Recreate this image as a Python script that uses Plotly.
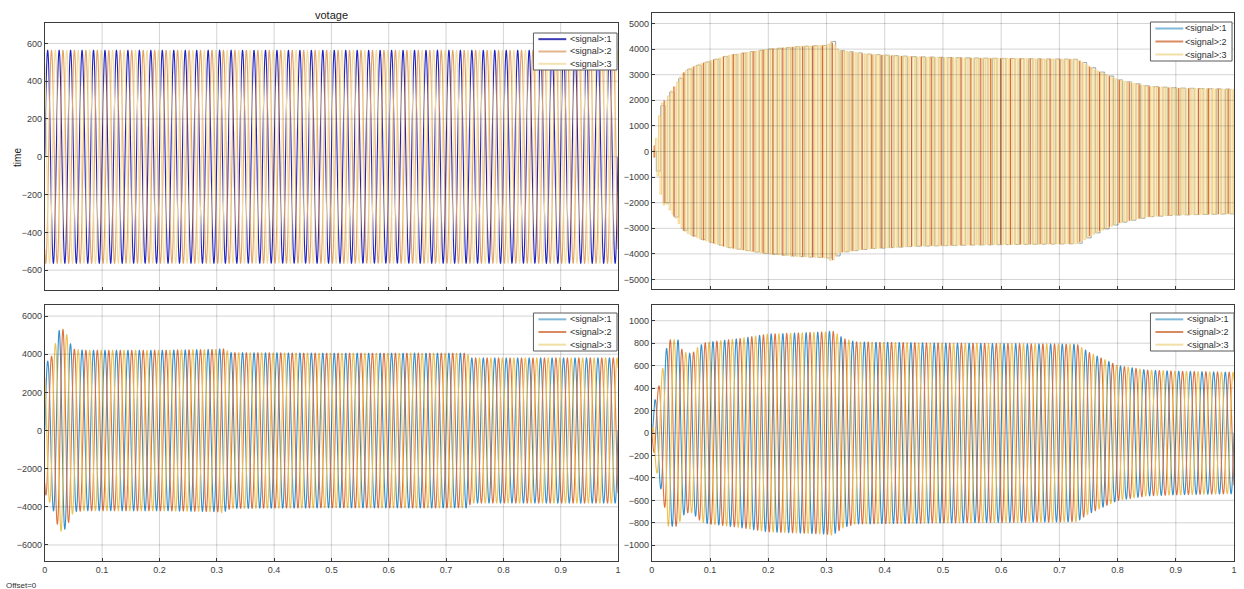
import numpy as np
import plotly.graph_objects as go

# ---------------- data ----------------
F_HZ = 50.0                        # grid frequency
PHASES_DEG = [0.0, -120.0, 120.0]  # three-phase shift
SIGNAL_NAMES = ["&lt;signal&gt;:1", "&lt;signal&gt;:2", "&lt;signal&gt;:3"]

# supply voltage (constant peak)
volt_env_t = [0.0, 1.0]
volt_env_a = [563.0, 563.0]

# upper-right channel: peak envelope of the switched signal
tr_env_t = [0.0, 0.005, 0.012, 0.019, 0.022, 0.03, 0.04, 0.05, 0.06, 0.08, 0.10, 0.13,
            0.17, 0.20, 0.25, 0.30, 0.308, 0.32, 0.37, 0.45, 0.55, 0.73, 0.76, 0.80,
            0.85, 0.90, 1.0]
tr_env_a = [0, 300, 1500, 2100, 1950, 2300, 2600, 3000, 3200, 3400, 3550, 3750,
            3900, 4000, 4100, 4150, 4300, 3950, 3800, 3700, 3650, 3600, 3200, 2800,
            2550, 2480, 2430]
# switching interval of each channel (s) and its first edge
tr_steps = [0.0077, 0.0170, 0.0026]
tr_start = [0.0, 0.004, 0.001]

# lower-left channel: peak envelope
bl_env_t = [0.0, 0.004, 0.012, 0.018, 0.025, 0.032, 0.04, 0.046, 0.052, 0.07, 0.20,
            0.30, 0.31, 0.325, 0.50, 0.735, 0.745, 1.0]
bl_env_a = [3200, 3600, 3900, 4500, 5250, 5300, 4950, 4450, 4250, 4200, 4200,
            4250, 4300, 4080, 4050, 4050, 3800, 3800]

# lower-right channel: peak envelope
br_env_t = [0.0, 0.005, 0.012, 0.02, 0.028, 0.045, 0.052, 0.06, 0.07, 0.08, 0.09, 0.10,
            0.15, 0.20, 0.25, 0.30, 0.31, 0.33, 0.35, 0.50, 0.73, 0.75, 0.80, 0.85,
            0.90, 1.0]
br_env_a = [0, 290, 420, 610, 830, 830, 740, 710, 710, 770, 800, 810,
            840, 880, 890, 900, 910, 840, 810, 800, 790, 720, 600, 560,
            550, 540]

# axis ranges and ticks
x_ticks = [0, 0.1, 0.2, 0.3, 0.4, 0.5, 0.6, 0.7, 0.8, 0.9, 1]
x_tick_text = ["0", "0.1", "0.2", "0.3", "0.4", "0.5", "0.6", "0.7", "0.8", "0.9", "1"]
tl_yticks = [-600, -400, -200, 0, 200, 400, 600]
tr_yticks = [-5000, -4000, -3000, -2000, -1000, 0, 1000, 2000, 3000, 4000, 5000]
bl_yticks = [-6000, -4000, -2000, 0, 2000, 4000, 6000]
br_yticks = [-1000, -800, -600, -400, -200, 0, 200, 400, 600, 800, 1000]

# ---------------- styling ----------------
VOLT_COLORS = ["#2222c0", "#e3a266", "#f3dc9e"]
SCOPE_COLORS = ["#3590cc", "#de7240", "#eec050"]
SWITCH_COLORS = ["#8fa3b8", "#d8643a", "#f3d488"]
LEGEND_VOLT = ["#3a3ab4", "#e2b48c", "#f4e2b4"]
LEGEND_SCOPE = ["#7fb8d8", "#d98a60", "#f2dfa6"]
GRID = "rgba(40,40,40,0.2)"
FRAME = "#3c3c3c"
FONT = "Liberation Sans, Arial"
TICKFONT = dict(family=FONT, size=9, color="#404040")

W, H = 1244, 589


def px_x(a, b):
    return [a / W, b / W]


def px_y(top, bottom):
    return [1 - bottom / H, 1 - top / H]


fig = go.Figure()


def sine_traces(env_t, env_a, colors, xa, ya, n=6000):
    t = np.linspace(0, 1, n)
    env = np.interp(t, env_t, env_a)
    for k, ph in enumerate(PHASES_DEG):
        y = env * np.sin(2 * np.pi * F_HZ * t + np.deg2rad(ph))
        fig.add_trace(go.Scatter(
            x=t, y=y, mode="lines", name=SIGNAL_NAMES[k],
            line=dict(color=colors[k], width=1.1, simplify=False),
            xaxis=xa, yaxis=ya, hoverinfo="skip", showlegend=False))


def switched_trace(k, env_t, env_a, color, xa, ya, steps, starts, edges_only=False):
    tk = np.arange(starts[k], 1.0 + steps[k], steps[k])
    env = np.interp(tk, env_t, env_a)
    if edges_only:
        # only the switching edges, full swing from -E to +E
        x = np.repeat(tk, 3)
        y = np.column_stack([-env, env, np.full_like(env, np.nan)]).ravel()
        shape = "linear"
    else:
        # two-level waveform holding +/-E between switching edges
        x = tk
        y = env * np.where(np.arange(len(tk)) % 2 == 0, 1.0, -1.0)
        shape = "hv"
    fig.add_trace(go.Scatter(
        x=x, y=y, mode="lines", name=SIGNAL_NAMES[k], connectgaps=False,
        line=dict(color=color, width=1, shape=shape, simplify=False),
        xaxis=xa, yaxis=ya, hoverinfo="skip", showlegend=False))


sine_traces(volt_env_t, volt_env_a, VOLT_COLORS, "x", "y")
switched_trace(0, tr_env_t, tr_env_a, SWITCH_COLORS[0], "x2", "y2", tr_steps, tr_start)
switched_trace(2, tr_env_t, tr_env_a, SWITCH_COLORS[2], "x2", "y2", tr_steps, tr_start)
switched_trace(1, tr_env_t, tr_env_a, SWITCH_COLORS[1], "x2", "y2", tr_steps, tr_start,
               edges_only=True)
sine_traces(bl_env_t, bl_env_a, SCOPE_COLORS, "x3", "y3")
sine_traces(br_env_t, br_env_a, SCOPE_COLORS, "x4", "y4")


def xaxis(dom, anchor, labels):
    return dict(domain=dom, anchor=anchor, range=[0, 1], tickvals=x_ticks,
                ticktext=x_tick_text, showticklabels=labels, showgrid=False,
                zeroline=False, showline=True, linecolor=FRAME, linewidth=1, mirror=True,
                ticks="inside", ticklen=3, tickcolor=FRAME, tickfont=TICKFONT)


def yaxis(dom, anchor, rng, ticks):
    return dict(domain=dom, anchor=anchor, range=rng, tickvals=ticks, showgrid=False,
                zeroline=False, showline=True, linecolor=FRAME, linewidth=1, mirror=True,
                ticks="inside", ticklen=3, tickcolor=FRAME, tickfont=TICKFONT)


shapes, annotations = [], []


def grid_on_top(xa, ya, yticks):
    """Scope grid drawn over the traces."""
    for xv in x_ticks[1:-1]:
        shapes.append(dict(type="line", xref=xa, yref=ya + " domain", x0=xv, x1=xv, y0=0, y1=1,
                           line=dict(color=GRID, width=1), layer="above"))
    for yv in yticks:
        shapes.append(dict(type="line", xref=xa + " domain", yref=ya, x0=0, x1=1, y0=yv, y1=yv,
                           line=dict(color=GRID, width=1), layer="above"))


grid_on_top("x", "y", tl_yticks)
grid_on_top("x2", "y2", tr_yticks)
grid_on_top("x3", "y3", bl_yticks)
grid_on_top("x4", "y4", br_yticks)


def legend_box(x0, y0, x1, y1, colors):
    """Scope-style legend drawn in pixel positions of the page."""
    shapes.append(dict(type="rect", xref="paper", yref="paper",
                       x0=x0 / W, x1=x1 / W, y0=1 - y1 / H, y1=1 - y0 / H,
                       fillcolor="white", line=dict(color="#5a5a5a", width=1), layer="above"))
    row_h = (y1 - y0) / 3.0
    for k in range(3):
        yc = y0 + row_h * (k + 0.5)
        shapes.append(dict(type="line", xref="paper", yref="paper",
                           x0=(x0 + 5) / W, x1=(x0 + 33) / W, y0=1 - yc / H, y1=1 - yc / H,
                           line=dict(color=colors[k], width=2), layer="above"))
        annotations.append(dict(text=SIGNAL_NAMES[k], x=(x1 - 3) / W, y=1 - yc / H,
                                xref="paper", yref="paper", xanchor="right", yanchor="middle",
                                showarrow=False, font=dict(family=FONT, size=9, color="#303030")))


legend_box(533, 33, 617, 70, LEGEND_VOLT)
legend_box(1153, 22, 1235, 61, LEGEND_SCOPE)
legend_box(533, 313, 617, 351, LEGEND_SCOPE)
legend_box(1153, 313, 1237, 351, LEGEND_SCOPE)

annotations += [
    dict(text="votage", x=330 / W, y=1 - 15 / H, xref="paper", yref="paper",
         xanchor="center", yanchor="middle",
         showarrow=False, font=dict(family=FONT, size=11, color="#202020")),
    dict(text="time", x=15 / W, y=1 - 157 / H, xref="paper", yref="paper",
         xanchor="center", yanchor="middle",
         showarrow=False, textangle=-90, font=dict(family=FONT, size=10, color="#202020")),
    dict(text="Offset=0", x=1 / W, y=1 - 585 / H, xref="paper", yref="paper",
         xanchor="left", yanchor="middle",
         showarrow=False, font=dict(family=FONT, size=8, color="#303030")),
]

fig.update_layout(
    width=W, height=H, margin=dict(l=0, r=0, t=0, b=0),
    paper_bgcolor="white", plot_bgcolor="white", showlegend=False,
    xaxis=xaxis(px_x(42, 618), "y", False),
    yaxis=yaxis(px_y(23, 290), "x", [-705, 708], tl_yticks),
    xaxis2=xaxis(px_x(652, 1237), "y2", False),
    yaxis2=yaxis(px_y(13, 289), "x2", [-5370, 5410], tr_yticks),
    xaxis3=xaxis(px_x(42, 618), "y3", True),
    yaxis3=yaxis(px_y(305, 561), "x3", [-6840, 6580], bl_yticks),
    xaxis4=xaxis(px_x(652, 1237), "y4", True),
    yaxis4=yaxis(px_y(305, 561), "x4", [-1140, 1140], br_yticks),
    shapes=shapes,
    annotations=annotations,
)

fig.write_html("out.html")
